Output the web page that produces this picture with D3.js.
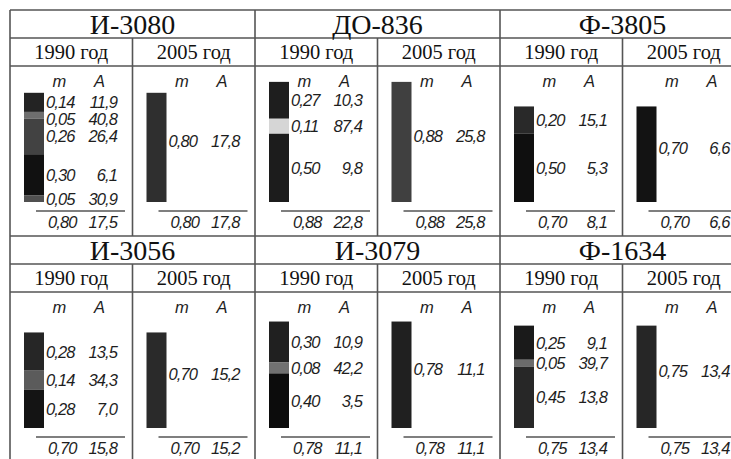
<!DOCTYPE html>
<html>
<head>
<meta charset="utf-8">
<script src="https://cdn.jsdelivr.net/npm/d3@7"></script>
<style>
  body { margin: 0; background: #fff; }
  svg { display: block; }
</style>
</head>
<body>
<div id="chart"></div>
<script>
// well names, two rows of three
var wells = ["И-3080", "ДО-836", "Ф-3805", "И-3056", "И-3079", "Ф-1634"];
var years = ["1990 год", "2005 год"];

// 1990: layers from top to bottom, thickness m and ash A
var layerM1990 = [
    [0.14, 0.05, 0.26, 0.30, 0.05],
    [0.27, 0.11, 0.50],
    [0.20, 0.50],
    [0.28, 0.14, 0.28],
    [0.30, 0.08, 0.40],
    [0.25, 0.05, 0.45]
];
var layerA1990 = [
    [11.9, 40.8, 26.4, 6.1, 30.9],
    [10.3, 87.4, 9.8],
    [15.1, 5.3],
    [13.5, 34.3, 7.0],
    [10.9, 42.2, 3.5],
    [9.1, 39.7, 13.8]
];
var totalM1990 = [0.80, 0.88, 0.70, 0.70, 0.78, 0.75];
var totalA1990 = [17.5, 22.8, 8.1, 15.8, 11.1, 13.4];

// 2005: single layer
var m2005 = [0.80, 0.88, 0.70, 0.70, 0.78, 0.75];
var a2005 = [17.8, 25.8, 6.6, 15.2, 11.1, 13.4];

var width = 731, height = 459;
var left = 10, top0 = 10;
var groupW = 245, colW = 122.5, rowH = 226;
var titleH = 28, subH = 28;
var barX = 14, barW = 20;

var fmt = function(v, d) { return v.toFixed(d).replace(".", ","); };

var svg = d3.select("#chart").append("svg")
    .attr("width", width)
    .attr("height", height);

// ash -> gray
var color = d3.scaleLinear()
    .domain([0, 5, 12, 25, 40, 90])
    .range(["#060606", "#0e0e0e", "#232323", "#3e3e3e", "#6c6c6c", "#dcdcdc"]);

var gridColor = "#555";
var textColor = "#1e1e1e";

// grid lines
var grid = svg.append("g").attr("stroke", gridColor).attr("stroke-width", 1.6);
[0, 1].forEach(function(r) {
    var ty = top0 + r * rowH;
    grid.append("line").attr("x1", left).attr("x2", width).attr("y1", ty).attr("y2", ty);
    grid.append("line").attr("x1", left).attr("x2", width).attr("y1", ty + titleH).attr("y2", ty + titleH);
    grid.append("line").attr("x1", left).attr("x2", width).attr("y1", ty + titleH + subH).attr("y2", ty + titleH + subH);
});
for (var g = 0; g <= 3; g++) {
    var gx = left + g * groupW;
    grid.append("line").attr("x1", gx).attr("x2", gx).attr("y1", top0).attr("y2", height);
    if (g < 3) {
        grid.append("line").attr("x1", gx + colW).attr("x2", gx + colW)
            .attr("y1", top0 + titleH).attr("y2", top0 + rowH);
        grid.append("line").attr("x1", gx + colW).attr("x2", gx + colW)
            .attr("y1", top0 + rowH + titleH).attr("y2", height);
    }
}

wells.forEach(function(name, i) {
    var row = Math.floor(i / 3), col = i % 3;
    var gx = left + col * groupW;
    var ty = top0 + row * rowH;
    var bottom = ty + 192;

    var y = d3.scaleLinear().domain([0, 1]).range([bottom, bottom - 136.5]);

    var g = svg.append("g");

    // well title
    g.append("text")
        .attr("x", gx + groupW / 2)
        .attr("y", ty + 23.5)
        .attr("text-anchor", "middle")
        .attr("font-family", "Liberation Serif, Times New Roman, serif")
        .attr("font-size", 28)
        .attr("fill", "#111")
        .text(name);

    years.forEach(function(yr, k) {
        var cx = gx + k * colW;

        g.append("text")
            .attr("x", cx + colW / 2)
            .attr("y", ty + 48.5)
            .attr("text-anchor", "middle")
            .attr("font-family", "Liberation Serif, Times New Roman, serif")
            .attr("font-size", 20.5)
            .attr("fill", "#111")
            .text(yr);

        var lab = g.append("g")
            .attr("font-family", "Liberation Sans, Arial, sans-serif")
            .attr("font-style", "italic")
            .attr("font-size", 16.5)
            .attr("letter-spacing", -0.9)
            .attr("fill", textColor);

        // column headers
        lab.append("text").attr("x", cx + 49).attr("y", ty + 77)
            .attr("text-anchor", "middle").text("m");
        lab.append("text").attr("x", cx + 89).attr("y", ty + 77)
            .attr("text-anchor", "middle").text("A");

        // layers
        var ms, as;
        if (k === 0) { ms = layerM1990[i]; as = layerA1990[i]; }
        else { ms = [m2005[i]]; as = [a2005[i]]; }
        var total = d3.sum(ms);
        var cum = 0;
        var layers = ms.map(function(m, j) {
            var d = { m: m, a: as[j], top: total - cum, bot: total - cum - m };
            cum += m;
            return d;
        });

        g.selectAll(null)
            .data(layers)
            .enter().append("rect")
            .attr("x", cx + barX)
            .attr("width", barW)
            .attr("y", function(d) { return y(d.top); })
            .attr("height", function(d) { return y(d.bot) - y(d.top); })
            .attr("fill", function(d) { return color(d.a); });

        // label positions: layer centres, pushed apart
        var ly = layers.map(function(d) { return y((d.top + d.bot) / 2); });
        if (k === 1) ly = ly.map(function(v) { return v - 6; });
        for (var j = 1; j < ly.length; j++) {
            if (ly[j] - ly[j - 1] < 17) ly[j] = ly[j - 1] + 17;
        }

        layers.forEach(function(d, j) {
            lab.append("text").attr("x", cx + 36).attr("y", ly[j]).attr("dy", "0.36em")
                .text(fmt(d.m, 2));
            lab.append("text").attr("x", cx + 107).attr("y", ly[j]).attr("dy", "0.36em")
                .attr("text-anchor", "end")
                .text(fmt(d.a, 1));
        });

        // total
        g.append("line")
            .attr("x1", cx + 26).attr("x2", cx + 115)
            .attr("y1", ty + 201).attr("y2", ty + 201)
            .attr("stroke", gridColor).attr("stroke-width", 1.5);
        var tm = k === 0 ? totalM1990[i] : m2005[i];
        var ta = k === 0 ? totalA1990[i] : a2005[i];
        lab.append("text").attr("x", cx + 38).attr("y", ty + 218).text(fmt(tm, 2));
        lab.append("text").attr("x", cx + 107).attr("y", ty + 218)
            .attr("text-anchor", "end").text(fmt(ta, 1));
    });
});
</script>
</body>
</html>
